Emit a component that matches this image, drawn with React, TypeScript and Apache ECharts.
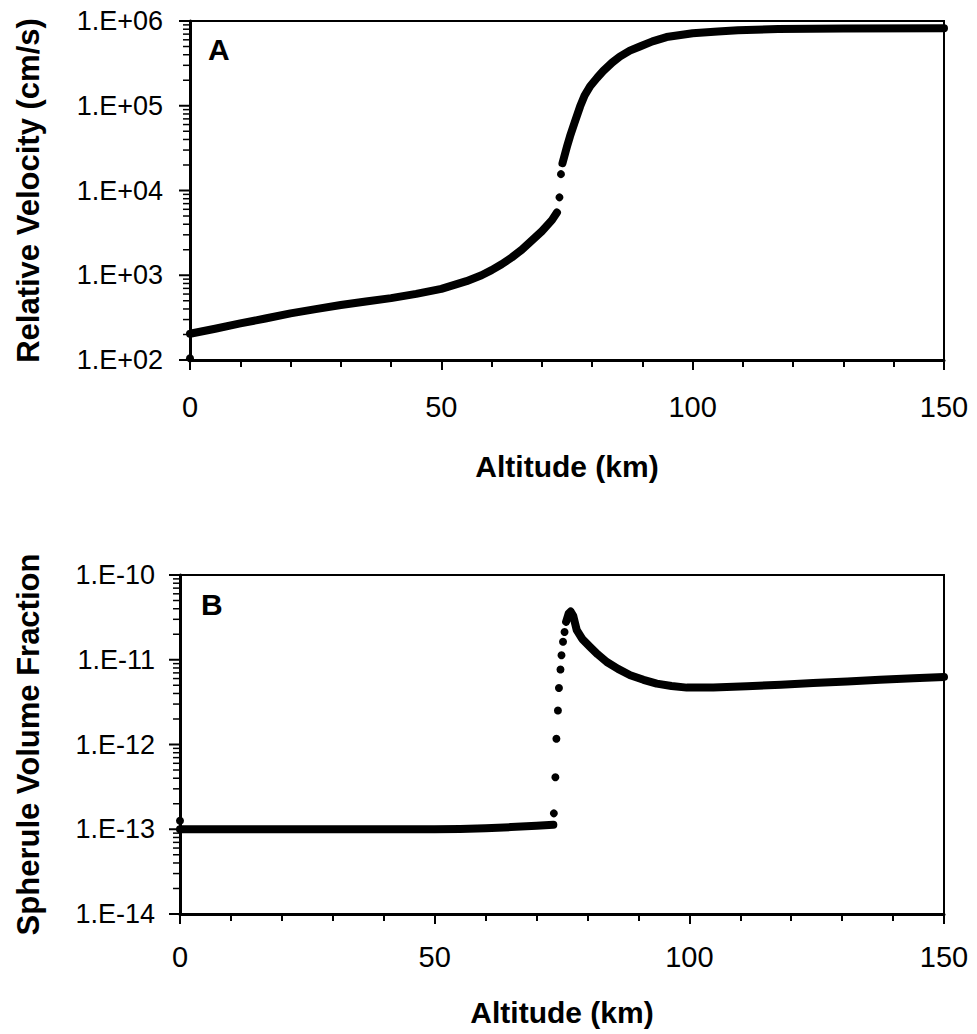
import React, { useEffect, useRef } from "react";
import * as echarts from "echarts";

// ---------- Panel A: relative velocity (cm/s) vs altitude (km) ----------
const altA1 = [0, 5, 10, 15, 20, 25, 30, 35, 40, 45, 50, 55, 58, 60, 62, 64, 66, 68, 70, 72, 73];
const velA1 = [204, 234, 270, 309, 355, 398, 445, 490, 537, 603, 692, 851, 1000, 1150, 1350, 1620, 2000, 2570, 3310, 4470, 5500];
const altA2 = [74.1, 75.0, 75.6, 76.5, 77.6, 78.5, 79.6, 81, 82.2, 84, 85.5, 87.5, 89.5, 92, 94.8, 100, 105, 109, 117, 130, 150];
const velA2 = [21000, 33000, 43600, 63000, 97700, 132000, 170000, 214000, 257000, 324000, 380000, 447000, 501000, 575000, 646000, 716000, 750000, 776000, 803000, 817000, 822000];
const altADots = [0, 73.5, 73.8];
const velADots = [105, 8300, 15600];

// ---------- Panel B: spherule volume fraction vs altitude (km) ----------
const altB1 = [0, 10, 20, 30, 40, 50, 55, 60, 65, 70, 73.3];
const fracB1 = [1e-13, 1e-13, 1e-13, 1e-13, 1e-13, 1e-13, 1.01e-13, 1.03e-13, 1.06e-13, 1.1e-13, 1.13e-13];
const altBDots = [0, 73.4, 73.7, 73.9, 74.2, 74.4, 74.7, 74.9, 75.2, 75.5];
const fracBDots = [1.26e-13, 1.54e-13, 4.1e-13, 1.17e-12, 2.52e-12, 4.65e-12, 7.66e-12, 1.13e-11, 1.63e-11, 2.13e-11];
const altB2 = [75.8, 76.3, 76.7, 77.2, 77.9, 79, 80.5, 82, 83.8, 86, 88.4, 91, 93.6, 96.5, 99.5, 104.7, 111.3, 118, 124.3, 131, 137.4, 144, 150];
const fracB2 = [2.8e-11, 3.5e-11, 3.7e-11, 3.3e-11, 2.23e-11, 1.75e-11, 1.42e-11, 1.16e-11, 9.4e-12, 7.8e-12, 6.56e-12, 5.8e-12, 5.23e-12, 4.9e-12, 4.69e-12, 4.69e-12, 4.86e-12, 5.08e-12, 5.3e-12, 5.55e-12, 5.82e-12, 6.05e-12, 6.26e-12];

// ---------- Axes ----------
const xTickLabels = ["0", "50", "100", "150"];
const yTickLabelsA = ["1.E+02", "1.E+03", "1.E+04", "1.E+05", "1.E+06"];
const yTickLabelsB = ["1.E-14", "1.E-13", "1.E-12", "1.E-11", "1.E-10"];
const yDecadesA = [2, 6];
const yDecadesB = [-14, -10];
const minorMultipliers = [2, 3, 4, 5, 6, 7, 8, 9];

const FONT = "'Liberation Sans', Arial, Helvetica, sans-serif";

const zip = (xs: number[], ys: number[]) => xs.map((x, i) => [x, ys[i]]);

// y-axis tick marks (major at each decade, minor at 2..9 x decade), as [x, value, isMajor]
const logTickItems = (range: number[]) => {
  const out: number[][] = [];
  for (let k = range[0]; k <= range[1]; k++) {
    out.push([0, Math.pow(10, k), 1]);
    if (k < range[1]) minorMultipliers.forEach((m) => out.push([0, m * Math.pow(10, k), 0]));
  }
  return out;
};

export default function App() {
  const ref = useRef<HTMLDivElement>(null);

  useEffect(() => {
    if (!ref.current) return;
    const chart = echarts.init(ref.current, null, { renderer: "svg" });

    const xAxisBase = (gridIndex: number, margin: number, nameGap: number) => ({
      gridIndex,
      type: "value",
      min: 0,
      max: 150,
      interval: 50,
      axisLine: { show: true, lineStyle: { color: "#000", width: 3 } },
      axisTick: { show: true, length: 10, lineStyle: { color: "#000", width: 2 } },
      minorTick: { show: true, splitNumber: 5, length: 7, lineStyle: { color: "#000", width: 2 } },
      splitLine: { show: false },
      axisLabel: {
        color: "#000",
        fontSize: 29,
        fontFamily: FONT,
        margin,
        formatter: (v: number) => xTickLabels[Math.round(v / 50)],
      },
      name: "Altitude (km)",
      nameLocation: "middle",
      nameGap,
      nameTextStyle: { color: "#000", fontSize: 30, fontWeight: "bold", fontFamily: FONT },
    });

    const logAxis = (gridIndex: number, range: number[]) => ({
      gridIndex,
      type: "log",
      logBase: 10,
      min: Math.pow(10, range[0]),
      max: Math.pow(10, range[1]),
      position: "left",
      axisLine: { show: true, lineStyle: { color: "#000", width: 3 } },
      axisTick: { show: false },
      axisLabel: { show: false },
      splitLine: { show: false },
    });

    const labelAxis = (gridIndex: number, range: number[], labels: string[], name: string, nameGap: number, margin: number) => ({
      gridIndex,
      type: "value",
      min: range[0],
      max: range[1],
      interval: 1,
      position: "left",
      axisLine: { show: false },
      axisTick: { show: false },
      splitLine: { show: false },
      axisLabel: {
        color: "#000",
        fontSize: 27,
        fontFamily: FONT,
        margin,
        formatter: (v: number) => labels[Math.round(v - range[0])],
      },
      name,
      nameLocation: "middle",
      nameRotate: 90,
      nameGap,
      nameTextStyle: { color: "#000", fontSize: 31, fontWeight: "bold", fontFamily: FONT },
    });

    const tickSeries = (xAxisIndex: number, yAxisIndex: number, range: number[]) => ({
      type: "custom",
      xAxisIndex,
      yAxisIndex,
      data: logTickItems(range),
      clip: false,
      silent: true,
      z: 10,
      renderItem: (_params: any, api: any) => {
        const p = api.coord([api.value(0), api.value(1)]);
        const major = api.value(2) === 1;
        const len = major ? 11 : 7;
        return {
          type: "line",
          shape: { x1: p[0] - len, y1: p[1], x2: p[0], y2: p[1] },
          style: { stroke: "#000", lineWidth: major ? 2 : 1.5 },
        };
      },
    });

    const lineSeries = (xAxisIndex: number, yAxisIndex: number, data: number[][]) => ({
      type: "line",
      xAxisIndex,
      yAxisIndex,
      data,
      showSymbol: false,
      clip: false,
      lineStyle: { color: "#000", width: 8, cap: "round", join: "round" },
      silent: true,
    });

    const dotSeries = (xAxisIndex: number, yAxisIndex: number, data: number[][]) => ({
      type: "scatter",
      xAxisIndex,
      yAxisIndex,
      data,
      symbol: "circle",
      symbolSize: 8,
      clip: false,
      itemStyle: { color: "#000", opacity: 1 },
      silent: true,
    });

    chart.setOption({
      animation: false,
      backgroundColor: "#fff",
      grid: [
        { left: 190, top: 21, width: 754, height: 339, show: true, borderColor: "#000", borderWidth: 2 },
        { left: 180, top: 575, width: 764, height: 339, show: true, borderColor: "#000", borderWidth: 2 },
      ],
      xAxis: [xAxisBase(0, 32, 91), xAxisBase(1, 28, 83)],
      yAxis: [
        logAxis(0, yDecadesA),
        labelAxis(0, yDecadesA, yTickLabelsA, "Relative Velocity (cm/s)", 146, 27),
        logAxis(1, yDecadesB),
        labelAxis(1, yDecadesB, yTickLabelsB, "Spherule Volume Fraction", 136, 25),
      ],
      graphic: [
        { type: "text", left: 208, top: 34, style: { text: "A", font: `bold 30px ${FONT}`, fill: "#000" } },
        { type: "text", left: 201, top: 589, style: { text: "B", font: `bold 30px ${FONT}`, fill: "#000" } },
      ],
      series: [
        tickSeries(0, 0, yDecadesA),
        tickSeries(1, 2, yDecadesB),
        lineSeries(0, 0, zip(altA1, velA1)),
        lineSeries(0, 0, zip(altA2, velA2)),
        dotSeries(0, 0, zip(altADots, velADots)),
        lineSeries(1, 2, zip(altB1, fracB1)),
        lineSeries(1, 2, zip(altB2, fracB2)),
        dotSeries(1, 2, zip(altBDots, fracBDots)),
      ],
    });

    return () => chart.dispose();
  }, []);

  return (
    <div
      ref={ref}
      style={{ position: "fixed", left: 0, top: 0, width: 977, height: 1034, background: "#fff" }}
    />
  );
}
